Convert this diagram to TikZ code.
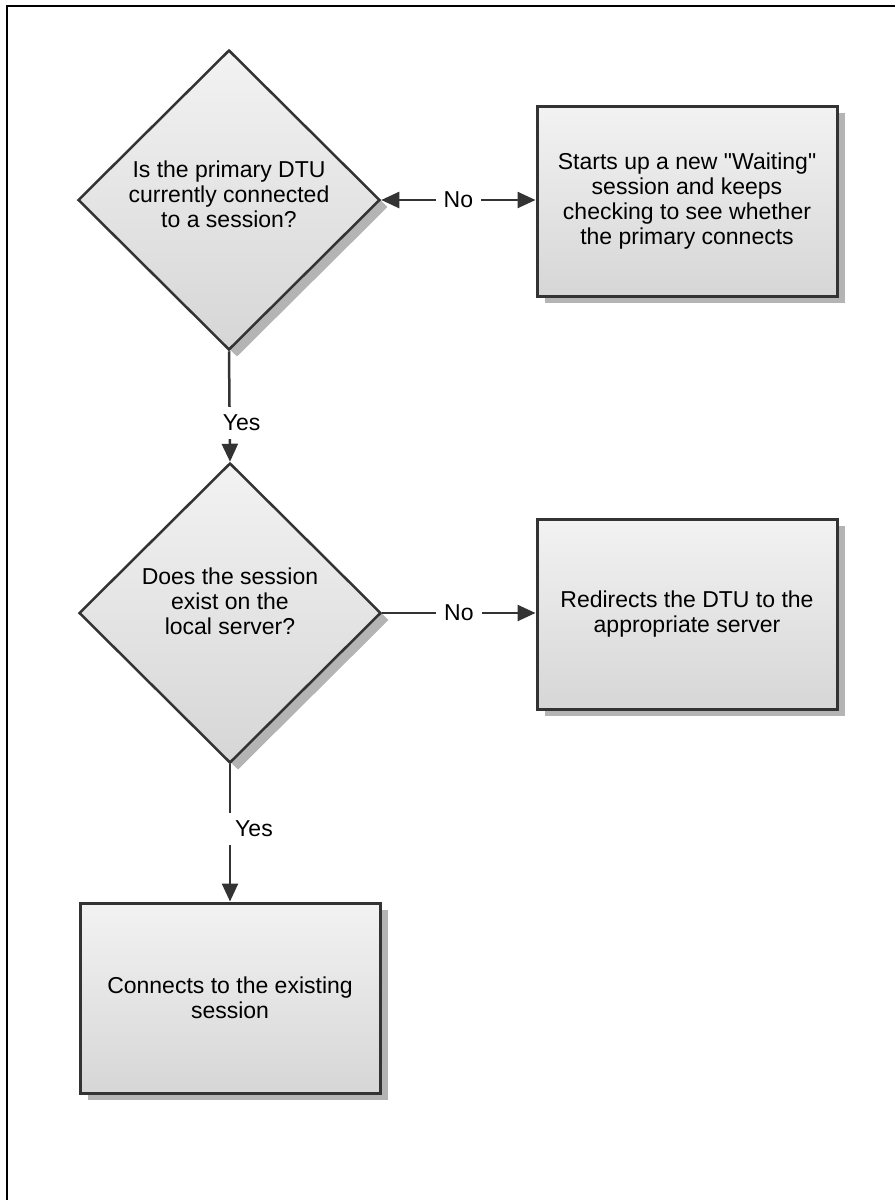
\documentclass[tikz,border=0pt]{standalone}
\usepackage{fontspec}
\setmainfont{Liberation Sans}[Ligatures=TeXOff]
\usetikzlibrary{shapes.geometric,arrows.meta,shadows}
\definecolor{edgegray}{HTML}{333333}
\definecolor{shadowgray}{HTML}{B4B4B4}
\begin{document}
\begin{tikzpicture}[
                x=1pt, y=-1pt,
                every node/.style={font=\fontsize{23}{25}\selectfont, text=black},
                boxshadow/.style={drop shadow={shadow xshift=8pt, shadow yshift=-7pt, fill=shadowgray, opacity=1}},
                decision/.style={diamond, aspect=1, draw=edgegray, line width=2.5pt,
                    minimum width=302pt, minimum height=300pt, inner sep=0pt, align=center,
                    top color=gray!10, bottom color=gray!32, boxshadow},
                question/.style={align=center, yshift=#1},
                action/.style={rectangle, draw=edgegray, line width=3pt,
                    minimum width=300pt, minimum height=190pt, align=center,
                    top color=gray!10, bottom color=gray!32, boxshadow},
                >={Triangle[length=18pt,width=16pt]},
                conn/.style={draw=edgegray, line width=2.5pt, ->},
                answer/.style={fill=white, inner sep=8pt},
            ]
            \useasboundingbox (0,0) rectangle (895,1200);
            \draw[line width=2pt] (7,1200) -- (7,6) -- (895,6);

            \node[decision, label={[question=6pt]center:{Is the primary DTU\\currently connected\\to a session?}}] (primary) at (229,200) {};
            \node[action] (waiting) at (687,201) {Starts up a new "Waiting"\\session and keeps\\checking to see whether\\the primary connects};
            \node[decision, label={[question=12pt]center:{Does the session\\exist on the\\local server?}}] (local) at (230,613) {};
            \node[action] (redirect) at (687,614) {Redirects the DTU to the\\appropriate server};
            \node[action] (existing) at (230,998) {Connects to the existing\\session};

            \draw[conn, <->] (primary.east) -- node[answer] {No} (primary.east -| waiting.west);
            \draw[conn] (primary.south) -- node[answer, pos=0.65, xshift=12pt] {Yes} (local.north);
            \draw[conn] (local.east) -- node[answer] {No} (local.east -| redirect.west);
            \draw[conn] (local.south) -- node[answer, pos=0.47, xshift=24pt] {Yes} (existing.north);
            \end{tikzpicture}
\end{document}
